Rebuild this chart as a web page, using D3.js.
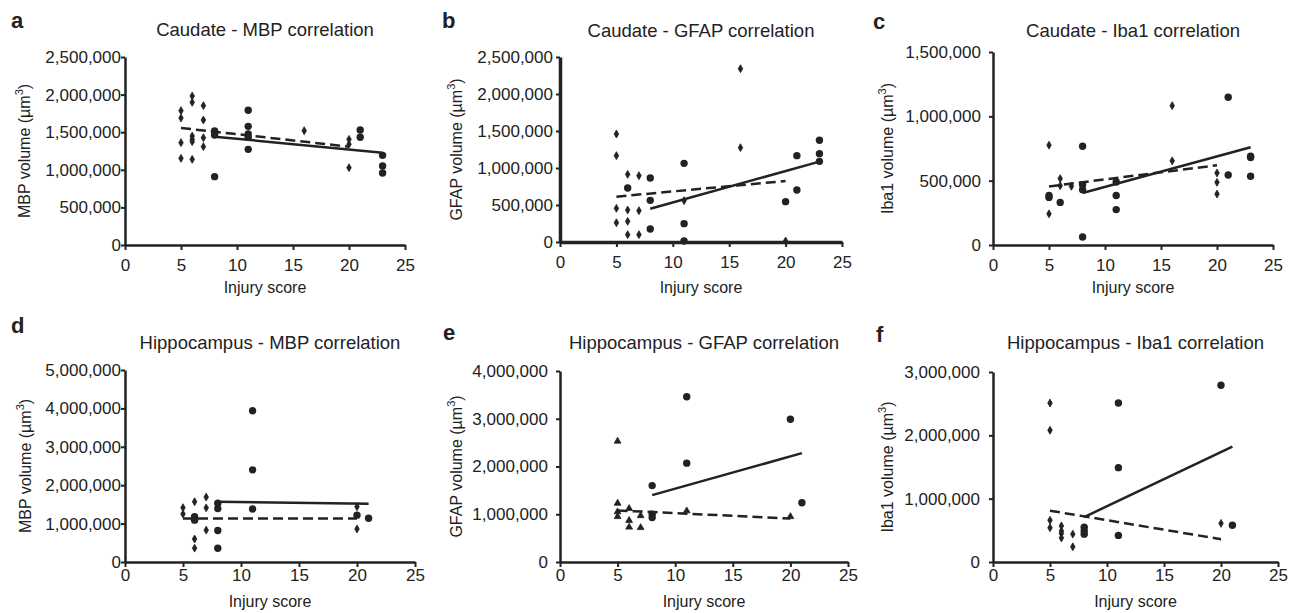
<!DOCTYPE html>
<html>
<head>
<meta charset="utf-8">
<script src="https://cdn.jsdelivr.net/npm/d3@7"></script>
<style>
body { margin: 0; background: #fff; }
svg text { font-family: "Liberation Sans", Arial, sans-serif; fill: #222; }
</style>
</head>
<body>
<svg id="chart" width="1291" height="613"></svg>
<script>
// shared x ticks (injury score)
const xTicks = [0, 5, 10, 15, 20, 25];

// a - Caudate MBP
const aYTicks = [0, 500000, 1000000, 1500000, 2000000, 2500000];
const aDiamonds = [[5,1786000],[5,1689000],[5,1361000],[5,1152000],
  [6,1981000],[6,1897000],[6,1449000],[6,1405000],[6,1374000],[6,1139000],
  [7,1853000],[7,1662000],[7,1427000],[7,1308000],
  [16,1520000],[20,1405000],[20,1340000],[20,1028000]];
const aCircles = [[8,1516000],[8,1463000],[8,909000],
  [11,1791000],[11,1578000],[11,1476000],[11,1432000],[11,1272000],
  [21,1529000],[21,1432000],[23,1192000],[23,1051000],[23,957000]];
const aSolid = [[8,1441000],[23,1228000]];
const aDashed = [[5,1556000],[20,1308000]];

// b - Caudate GFAP
const bYTicks = [0, 500000, 1000000, 1500000, 2000000, 2500000];
const bDiamonds = [[5,1459000],[5,1167000],[5,455000],[5,261000],
  [6,914000],[6,432000],[6,279000],[6,99000],
  [7,896000],[7,423000],[7,99000],[11,559000],
  [16,2342000],[16,1275000],[20,14000]];
const bCircles = [[6,730000],[8,865000],[8,563000],[8,176000],
  [11,1063000],[11,248000],[11,14000],[20,545000],
  [21,1167000],[21,703000],[23,1374000],[23,1194000],[23,1090000]];
const bSolid = [[8,450000],[23,1086000]];
const bDashed = [[5,613000],[20,824000]];

// c - Caudate Iba1
const cYTicks = [0, 500000, 1000000, 1500000];
const cDiamonds = [[5,776000],[5,242000],[6,516000],[6,461000],[7,456000],
  [16,1083000],[16,654000],[20,560000],[20,487000],[20,396000]];
const cCircles = [[5,385000],[5,370000],[6,331000],
  [8,768000],[8,469000],[8,430000],[8,62000],
  [11,490000],[11,385000],[11,275000],
  [21,1148000],[21,544000],[23,690000],[23,680000],[23,534000]];
const cSolid = [[8,404000],[23,760000]];
const cDashed = [[5,455000],[20,620000]];

// d - Hippocampus MBP
const dYTicks = [0, 1000000, 2000000, 3000000, 4000000, 5000000];
const dDiamonds = [[5,1415000],[5,1250000],[6,1570000],[6,600000],[6,360000],
  [7,1690000],[7,1410000],[7,830000],[20,1440000],[20,860000]];
const dCircles = [[6,1180000],[6,1090000],[8,1530000],[8,1390000],[8,820000],[8,360000],
  [11,3940000],[11,2400000],[11,1380000],[20,1220000],[21,1140000]];
const dSolid = [[8,1570000],[21,1520000]];
const dDashed = [[5,1130000],[20,1130000]];

// e - Hippocampus GFAP
const eYTicks = [0, 1000000, 2000000, 3000000, 4000000];
const eTriangles = [[5,2530000],[5,1230000],[5,1050000],[5,950000],
  [6,1120000],[6,870000],[6,730000],[7,970000],[7,720000],
  [11,1070000],[20,950000]];
const eCircles = [[8,1600000],[8,1000000],[8,930000],
  [11,3460000],[11,2070000],[20,2990000],[21,1240000]];
const eSolid = [[8,1400000],[21,2280000]];
const eDashed = [[5,1080000],[20,910000]];

// f - Hippocampus Iba1
const fYTicks = [0, 1000000, 2000000, 3000000];
const fDiamonds = [[5,2510000],[5,2080000],[5,660000],[5,540000],
  [6,570000],[6,490000],[6,450000],[6,380000],[7,440000],[7,240000],[20,610000]];
const fCircles = [[8,550000],[8,490000],[8,440000],
  [11,2510000],[11,1490000],[11,420000],[20,2790000],[21,580000]];
const fSolid = [[8,710000],[21,1820000]];
const fDashed = [[5,810000],[20,360000]];

const panels = [
  {id:"a", title:"Caudate - MBP correlation", name:"MBP", yTicks:aYTicks, small:aDiamonds, smallType:d3.symbolDiamond, big:aCircles, solid:aSolid, dashed:aDashed,
   x0:125, x1:405, yBot:245, yTop:57, letterX:11, letterY:28, titleY:36, xLabY:293, yLabX:30, yGap:4, xGap:14, axisW:2.5},
  {id:"b", title:"Caudate - GFAP correlation", name:"GFAP", yTicks:bYTicks, small:bDiamonds, smallType:d3.symbolDiamond, big:bCircles, solid:bSolid, dashed:bDashed,
   x0:560, x1:842, yBot:242, yTop:57, letterX:442, letterY:28, titleY:37, xLabY:293, yLabX:462, yGap:7, xGap:14, axisW:3.5},
  {id:"c", title:"Caudate - Iba1 correlation", name:"Iba1", yTicks:cYTicks, small:cDiamonds, smallType:d3.symbolDiamond, big:cCircles, solid:cSolid, dashed:cDashed,
   x0:993, x1:1273, yBot:245, yTop:52, letterX:873, letterY:29, titleY:37, xLabY:293, yLabX:893, yGap:12, xGap:14, axisW:2.5},
  {id:"d", title:"Hippocampus - MBP correlation", name:"MBP", yTicks:dYTicks, small:dDiamonds, smallType:d3.symbolDiamond, big:dCircles, solid:dSolid, dashed:dDashed,
   x0:125, x1:415, yBot:562, yTop:370, letterX:11, letterY:333, titleY:349, xLabY:607, yLabX:31, yGap:4, xGap:7, axisW:2.5},
  {id:"e", title:"Hippocampus - GFAP correlation", name:"GFAP", yTicks:eYTicks, small:eTriangles, smallType:d3.symbolTriangle, big:eCircles, solid:eSolid, dashed:eDashed,
   x0:560, x1:848, yBot:562, yTop:371, letterX:443, letterY:340, titleY:349, xLabY:607, yLabX:462, yGap:12, xGap:7, axisW:2.5},
  {id:"f", title:"Hippocampus - Iba1 correlation", name:"Iba1", yTicks:fYTicks, small:fDiamonds, smallType:d3.symbolDiamond, big:fCircles, solid:fSolid, dashed:fDashed,
   x0:993, x1:1278, yBot:562, yTop:372, letterX:876, letterY:342, titleY:349, xLabY:607, yLabX:893, yGap:13, xGap:7, axisW:2.5}
];

const svg = d3.select("#chart");
const ink = "#222";

panels.forEach(p => {
  const g = svg.append("g").attr("class", "panel-" + p.id);
  const x = d3.scaleLinear().domain([0, 25]).range([p.x0, p.x1]);
  const y = d3.scaleLinear().domain([0, d3.max(p.yTicks)]).range([p.yBot, p.yTop]);
  const midX = (p.x0 + p.x1) / 2, midY = (p.yBot + p.yTop) / 2;

  // panel letter + title
  g.append("text").attr("x", p.letterX).attr("y", p.letterY)
    .attr("font-size", 22).attr("font-weight", "bold").text(p.id);
  g.append("text").attr("x", midX).attr("y", p.titleY)
    .attr("text-anchor", "middle").attr("font-size", 18.5).text(p.title);

  // axes
  const yAx = g.append("g").attr("transform", `translate(${p.x0},0)`)
    .call(d3.axisLeft(y).tickValues(p.yTicks).tickFormat(d3.format(","))
      .tickSize(4).tickSizeOuter(0).tickPadding(p.yGap - 4));
  const xAx = g.append("g").attr("transform", `translate(0,${p.yBot})`)
    .call(d3.axisBottom(x).tickValues(xTicks).tickSize(5).tickSizeOuter(0).tickPadding(p.xGap - 5));
  [yAx, xAx].forEach(ax => {
    ax.select(".domain").attr("stroke", ink).attr("stroke-width", p.axisW);
    ax.selectAll(".tick line").attr("stroke", ink).attr("stroke-width", 2);
    ax.selectAll(".tick text").attr("font-size", 17).attr("fill", ink)
      .attr("font-family", "Liberation Sans, Arial, sans-serif");
  });

  // axis titles
  g.append("text").attr("x", midX).attr("y", p.xLabY)
    .attr("text-anchor", "middle").attr("font-size", 16).text("Injury score");
  const yl = g.append("text").attr("transform", `translate(${p.yLabX},${midY}) rotate(-90)`)
    .attr("text-anchor", "middle").attr("font-size", 16);
  yl.append("tspan").text(p.name + " volume (\u00b5m");
  yl.append("tspan").attr("font-size", 11).attr("dy", -7).text("3");
  yl.append("tspan").attr("dy", 7).text(")");

  // fit lines
  const line = d3.line().x(d => x(d[0])).y(d => y(d[1]));
  g.append("path").datum(p.dashed).attr("d", line).attr("fill", "none")
    .attr("stroke", ink).attr("stroke-width", 2.5).attr("stroke-dasharray", "10,5");
  g.append("path").datum(p.solid).attr("d", line).attr("fill", "none")
    .attr("stroke", ink).attr("stroke-width", 2.5);

  // points
  g.append("g").selectAll("path").data(p.small).enter().append("path")
    .attr("transform", d => `translate(${x(d[0])},${y(d[1])})`)
    .attr("d", d3.symbol().type(p.smallType).size(p.smallType === d3.symbolTriangle ? 20 : 18))
    .attr("fill", ink).attr("stroke", ink).attr("stroke-width", 0.8);
  g.append("g").selectAll("circle").data(p.big).enter().append("circle")
    .attr("cx", d => x(d[0])).attr("cy", d => y(d[1]))
    .attr("r", 3.7).attr("fill", ink);
});
</script>
</body>
</html>
